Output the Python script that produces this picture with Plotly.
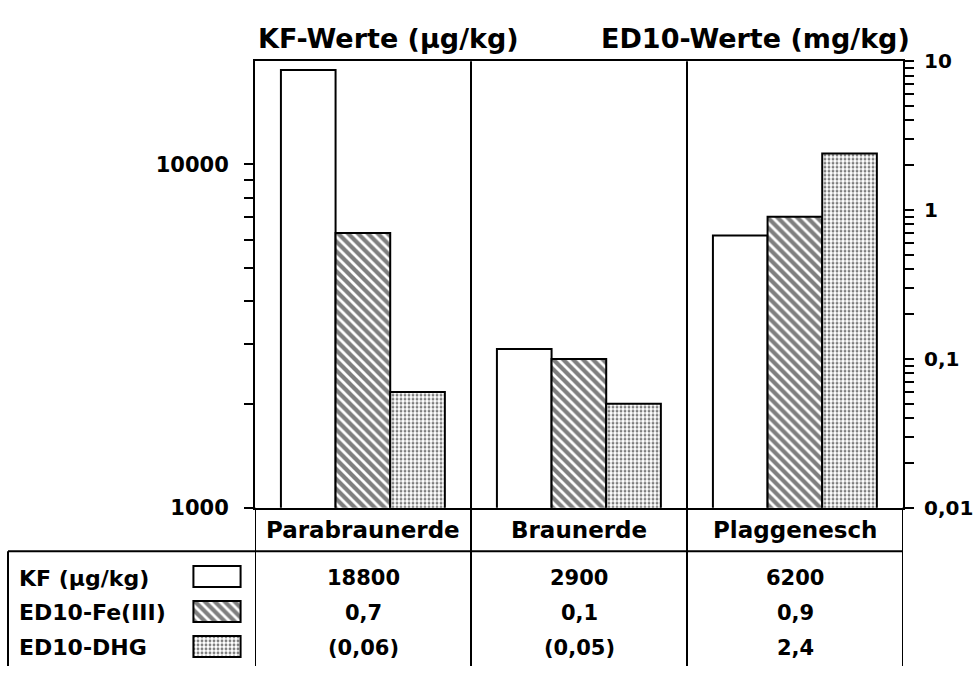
import plotly.graph_objects as go

# ---------------- data ----------------
categories = ["Parabraunerde", "Braunerde", "Plaggenesch"]
kf_values = [18800, 2900, 6200]          # KF (µg/kg)  -> left axis
ed10_fe_values = [0.7, 0.1, 0.9]         # ED10-Fe(III) (mg/kg) -> right axis
ed10_dhg_values = [0.06, 0.05, 2.4]      # ED10-DHG (mg/kg) -> right axis
dhg_in_brackets = [True, True, False]
row_labels = ["KF (µg/kg)", "ED10-Fe(III)", "ED10-DHG"]
left_tickvals = [1000, 10000]
left_ticktext = ["1000", "10000"]
left_minor = [2000, 3000, 4000, 5000, 6000, 7000, 8000, 9000, 20000]
right_tickvals = [0.01, 0.1, 1, 10]
right_ticktext = ["0,01", "0,1", "1", "10"]
right_minor = [0.02, 0.03, 0.04, 0.05, 0.06, 0.07, 0.08, 0.09,
               0.2, 0.3, 0.4, 0.5, 0.6, 0.7, 0.8, 0.9,
               2, 3, 4, 5, 6, 7, 8, 9]
title_left = "KF-Werte (µg/kg)"
title_right = "ED10-Werte (mg/kg)"

# ---------------- layout helpers ----------------
W, H = 977, 678
def px(x):
    return x / W
def py(y):
    return 1 - y / H

FONT = "DejaVu Sans"
x_dom = [px(255), px(903)]
y_dom = [py(514), py(51)]

def de(v):
    return str(v).replace(".", ",")

styles = [
    dict(color="white", line=dict(color="black", width=2)),
    dict(color="white", line=dict(color="black", width=2),
         pattern=dict(shape="\\", fgcolor="black", bgcolor="white", size=7, solidity=0.6)),
    dict(color="white", line=dict(color="black", width=2),
         pattern=dict(shape=".", fgcolor="black", bgcolor="white", size=4, solidity=0.4)),
]
offsets = [-0.38, -0.127, 0.126]
bar_w = 0.253

fig = go.Figure()
series = [(kf_values, "y"), (ed10_fe_values, "y2"), (ed10_dhg_values, "y2")]
for i, (vals, ax) in enumerate(series):
    fig.add_trace(go.Bar(x=categories, y=vals, xaxis="x", yaxis=ax,
                         offset=offsets[i], width=bar_w, marker=styles[i],
                         showlegend=False, hoverinfo="skip"))

# legend swatches in the table
for i, lab in enumerate(row_labels):
    fig.add_trace(go.Bar(x=[1], y=[lab], orientation="h", xaxis="x2", yaxis="y3",
                         width=0.6, marker=styles[i], showlegend=False, hoverinfo="skip"))

axis_font = dict(family=FONT, size=21, color="black", weight=700)
fig.update_layout(
    width=W, height=H,
    margin=dict(l=0, r=0, t=0, b=0),
    paper_bgcolor="white", plot_bgcolor="white",
    font=dict(family=FONT, color="black", weight=700),
    barmode="overlay",
    xaxis=dict(domain=x_dom, anchor="y", type="category", range=[-0.5, len(categories) - 0.5],
               showticklabels=False, ticks="", showgrid=False, zeroline=False,
               showline=True, linecolor="black", linewidth=2, mirror=True),
    yaxis=dict(domain=y_dom, anchor="x", type="log", range=[3, 4.3],
               tickmode="array", tickvals=left_tickvals, ticktext=left_ticktext,
               ticks="outside", ticklen=9, tickwidth=2, tickcolor="black",
               minor=dict(tickmode="array", tickvals=left_minor, ticks="outside",
                          ticklen=9, tickwidth=2, tickcolor="black", showgrid=False),
               tickfont=axis_font, ticklabelstandoff=11,
               showgrid=False, zeroline=False,
               showline=True, linecolor="black", linewidth=2),
    yaxis2=dict(domain=y_dom, anchor="x", overlaying="y", side="right", type="log",
                range=[-2, 1],
                tickmode="array", tickvals=right_tickvals, ticktext=right_ticktext,
                ticks="outside", ticklen=9, tickwidth=2, tickcolor="black",
                minor=dict(tickmode="array", tickvals=right_minor, ticks="outside",
                           ticklen=9, tickwidth=2, tickcolor="black", showgrid=False),
                tickfont=dict(family=FONT, size=20, color="black", weight=700),
                ticklabelstandoff=6,
                showgrid=False, zeroline=False,
                showline=True, linecolor="black", linewidth=2),
    xaxis2=dict(domain=[px(192), px(242)], anchor="y3", range=[-0.03, 1.03],
                visible=False),
    yaxis3=dict(domain=[py(676), py(567)], anchor="x2", type="category",
                categoryorder="array", categoryarray=row_labels,
                autorange="reversed", visible=False),
)

# ---------------- table grid ----------------
line = dict(color="black", width=2)
shapes = []
for i in range(len(categories) - 1):
    shapes.append(dict(type="line", xref="x", yref="paper", x0=i + 0.5, x1=i + 0.5,
                       y0=0, y1=y_dom[1], line=line))
for xv in (-0.5, len(categories) - 0.5):
    shapes.append(dict(type="line", xref="x", yref="paper", x0=xv, x1=xv,
                       y0=0, y1=y_dom[0], line=line))
shapes.append(dict(type="line", xref="paper", yref="paper", x0=px(8), x1=x_dom[1],
                   y0=py(559), y1=py(559), line=line))
shapes.append(dict(type="line", xref="paper", yref="paper", x0=px(8), x1=px(8),
                   y0=0, y1=py(559), line=line))
fig.update_layout(shapes=shapes)

# ---------------- texts ----------------
ann = []
ann.append(dict(text=title_left, xref="paper", yref="paper", x=px(256), y=py(27),
                xanchor="left", yanchor="middle", showarrow=False,
                font=dict(family=FONT, size=27, color="black", weight=700)))
ann.append(dict(text=title_right, xref="paper", yref="paper", x=px(912), y=py(27),
                xanchor="right", yanchor="middle", showarrow=False,
                font=dict(family=FONT, size=27, color="black", weight=700)))
for c in categories:
    ann.append(dict(text=c, xref="x", yref="paper", x=c, y=py(537),
                    xanchor="center", yanchor="middle", showarrow=False,
                    font=dict(family=FONT, size=23, color="black", weight=700)))
row_y = [587, 623, 659]
for lab, yy in zip(row_labels, row_y):
    ann.append(dict(text=lab, xref="paper", yref="paper", x=px(17), y=py(yy),
                    xanchor="left", yanchor="middle", showarrow=False,
                    font=dict(family=FONT, size=22, color="black", weight=700)))
for j, c in enumerate(categories):
    dhg_txt = de(ed10_dhg_values[j])
    if dhg_in_brackets[j]:
        dhg_txt = "(" + dhg_txt + ")"
    texts = [de(kf_values[j]), de(ed10_fe_values[j]), dhg_txt]
    for t, yy in zip(texts, row_y):
        ann.append(dict(text=t, xref="x", yref="paper", x=c, y=py(yy),
                        xanchor="center", yanchor="middle", showarrow=False,
                        font=dict(family=FONT, size=21, color="black", weight=700)))
fig.update_layout(annotations=ann)

fig.write_html("out.html")
